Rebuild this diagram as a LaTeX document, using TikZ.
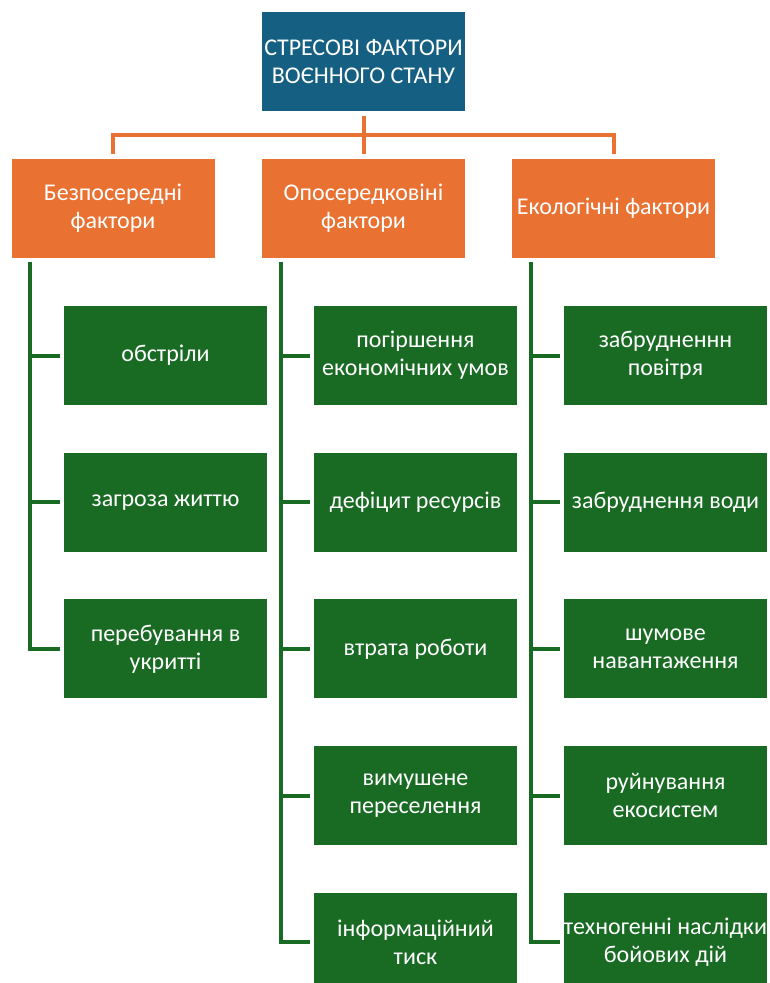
\documentclass[tikz,border=0pt]{standalone}
\usepackage{fontspec}
\setmainfont{Carlito}
\usepackage{tikz}
\usetikzlibrary{calc}

\definecolor{topblue}{HTML}{156082}
\definecolor{factorange}{HTML}{E97132}
\definecolor{itemgreen}{HTML}{196B24}

\tikzset{
  box/.style={rectangle, minimum width=152.25pt, minimum height=74.25pt,
    inner sep=0pt, align=center, text=white, font=\fontsize{18}{21}\selectfont},
  headbox/.style={box, fill=topblue},
  factbox/.style={box, fill=factorange},
  itembox/.style={box, fill=itemgreen},
  link/.style={draw=factorange, line width=3pt},
  branch/.style={draw=itemgreen, line width=3pt}
}

\begin{document}
\begin{tikzpicture}[x=0.75pt, y=-0.75pt]
 	\useasboundingbox (0,0) rectangle (769,983);
 	\node[headbox] (top) at (363.5,61.5) {СТРЕСОВІ ФАКТОРИ\\ВОЄННОГО СТАНУ};
 	% factor boxes
 	\node[factbox] (d) at (113,208) {Безпосередні\\фактори};
 	\node[factbox] (o) at (363.5,208) {Опосередковіні\\фактори};
 	\node[factbox] (e) at (613.5,208) {Екологічні фактори};
 	\coordinate (hub) at (363.5,135);
 	\draw[link] ([shift={(0,5)}]top.south) -- ([shift={(0,-4)}]o.north);
 	\draw[link] ([shift={(0,-4)}]d.north) |- (hub) -| ([shift={(0,-4)}]e.north);
 	% items
 	\node[itembox] (d1) at (165.5,355.5) {обстріли};
 	\node[itembox] (d2) at (165.5,502.2) {загроза життю};
 	\node[itembox] (d3) at (165.5,648.9) {перебування в\\укритті};
 	\node[itembox] (o1) at (415.5,355.5) {погіршення\\економічних умов};
 	\node[itembox] (o2) at (415.5,502.2) {дефіцит ресурсів};
 	\node[itembox] (o3) at (415.5,648.9) {втрата роботи};
 	\node[itembox] (o4) at (415.5,795.6) {вимушене\\переселення};
 	\node[itembox] (o5) at (415.5,942.3) {інформаційний\\тиск};
 	\node[itembox] (e1) at (665.5,355.5) {забрудненнн\\повітря};
 	\node[itembox] (e2) at (665.5,502.2) {забруднення води};
 	\node[itembox] (e3) at (665.5,648.9) {шумове\\навантаження};
 	\node[itembox] (e4) at (665.5,795.6) {руйнування\\екосистем};
 	\node[itembox] (e5) at (665.5,942.3) {техногенні наслідки\\бойових дій};
 	% trunks
 	\coordinate (td) at ([shift={(19,4)}]d.south west);
 	\coordinate (to) at ([shift={(19,4)}]o.south west);
 	\coordinate (te) at ([shift={(19,4)}]e.south west);
 	\draw[branch] (td) |- ([shift={(-4,0)}]d3.west);
 	\draw[branch] (td |- d1.west) -- ([shift={(-4,0)}]d1.west);
 	\draw[branch] (td |- d2.west) -- ([shift={(-4,0)}]d2.west);
 	\draw[branch] (to) |- ([shift={(-4,0)}]o5.west);
 	\draw[branch] (to |- o1.west) -- ([shift={(-4,0)}]o1.west);
 	\draw[branch] (to |- o2.west) -- ([shift={(-4,0)}]o2.west);
 	\draw[branch] (to |- o3.west) -- ([shift={(-4,0)}]o3.west);
 	\draw[branch] (to |- o4.west) -- ([shift={(-4,0)}]o4.west);
 	\draw[branch] (te) |- ([shift={(-4,0)}]e5.west);
 	\draw[branch] (te |- e1.west) -- ([shift={(-4,0)}]e1.west);
 	\draw[branch] (te |- e2.west) -- ([shift={(-4,0)}]e2.west);
 	\draw[branch] (te |- e3.west) -- ([shift={(-4,0)}]e3.west);
 	\draw[branch] (te |- e4.west) -- ([shift={(-4,0)}]e4.west);
\end{tikzpicture}
\end{document}
